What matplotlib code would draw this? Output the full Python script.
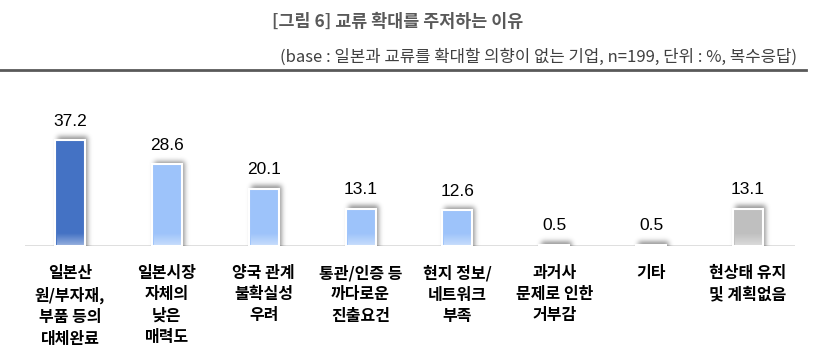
"""Bar chart: reasons for hesitating to expand exchange with Japan."""

import math

import matplotlib
matplotlib.use("Agg")
import matplotlib.pyplot as plt
import numpy as np

plt.rcParams["font.family"] = ["Noto Sans CJK KR", "DejaVu Sans"]

categories = [
    "일본산\n원/부자재,\n부품 등의\n대체완료",
    "일본시장\n자체의\n낮은\n매력도",
    "양국 관계\n불확실성\n우려",
    "통관/인증 등\n까다로운\n진출요건",
    "현지 정보/\n네트워크\n부족",
    "과거사\n문제로 인한\n거부감",
    "기타",
    "현상태 유지\n및 계획없음",
]
values = [37.2, 28.6, 20.1, 13.1, 12.6, 0.5, 0.5, 13.1]
colors = ["#4472C4", "#9DC3FA", "#9DC3FA", "#9DC3FA", "#9DC3FA",
          "#9DC3FA", "#9DC3FA", "#BFBFBF"]

W, H = 820, 351
fig = plt.figure(figsize=(W / 100, H / 100), dpi=100)

# title block
fig.text(398 / W, 1 - 22 / H, "[그림 6] 교류 확대를 주저하는 이유",
         ha="center", va="center", fontsize=12.5, fontweight="bold", color="#595959")
fig.text(797 / W, 1 - 57 / H,
         "(base : 일본과 교류를 확대할 의향이 없는 기업, n=199, 단위 : %, 복수응답)",
         ha="right", va="center", fontsize=12, color="#404040")
fig.add_artist(plt.Line2D([0, 806 / W], [1 - 70 / H, 1 - 70 / H],
                          color="#595959", linewidth=2.0))

ax = fig.add_axes([25 / W, 1 - 246 / H, 770 / W, 146 / H])
ax.axis("off")
ax.axhline(0, color="#D9D9D9", linewidth=1.2, zorder=1)

x = np.arange(len(values))
width = 0.31
px_x = 7.95 / 770   # data units per pixel, x
px_y = 51.2 / 146   # data units per pixel, y

# blurred drop shadow behind each bar
erf = np.vectorize(math.erf)
sig = 3.5
for xi, v in zip(x, values):
    x0, x1 = xi - width / 2 + 2 * px_x, xi + width / 2 + 2 * px_x
    y1 = v + 3 * px_y
    pad_x, pad_y = 12 * px_x, 12 * px_y
    gx = np.linspace(x0 - pad_x, x1 + pad_x, 80)
    gy = np.linspace(0, y1 + pad_y, 120)
    sx = 0.5 * (erf((gx - x0) / (sig * px_x)) - erf((gx - x1) / (sig * px_x)))
    sy = 0.5 * (1 - erf((gy - y1) / (sig * px_y)))
    img = np.zeros((len(gy), len(gx), 4))
    img[..., 3] = 0.45 * np.outer(sy, sx)
    ax.imshow(img, extent=(gx[0], gx[-1], 0, gy[-1]), origin="lower",
              aspect="auto", zorder=2, interpolation="bilinear")

ax.bar(x, values, width=width, color=colors, edgecolor="white",
       linewidth=1.5, zorder=3)

# light fade at the bottom of each bar
fade = np.linspace(0, 1, 50).reshape(-1, 1)
for xi, v in zip(x, values):
    top = min(v, 4.5)
    ax.imshow(np.dstack([np.ones((50, 1, 3)), 0.45 * (1 - fade)]),
              extent=(xi - width / 2 + 0.02, xi + width / 2 - 0.02, 0, top),
              origin="lower", aspect="auto", zorder=4, interpolation="bilinear")

for xi, v in zip(x, values):
    ax.text(xi, v + 6.6, f"{v:.1f}", ha="center", va="center",
            fontsize=12.5, color="#000000", family="Liberation Sans", zorder=5)

for xi, lab in zip(x, categories):
    ax.text(xi, -6.5, lab, ha="center", va="top", fontsize=11.5,
            fontweight="bold", color="#000000", linespacing=1.42,
            clip_on=False)

ax.set_xlim(-0.465, 7.485)
ax.set_ylim(0, 51.2)

fig.savefig("out.png", dpi=100)
